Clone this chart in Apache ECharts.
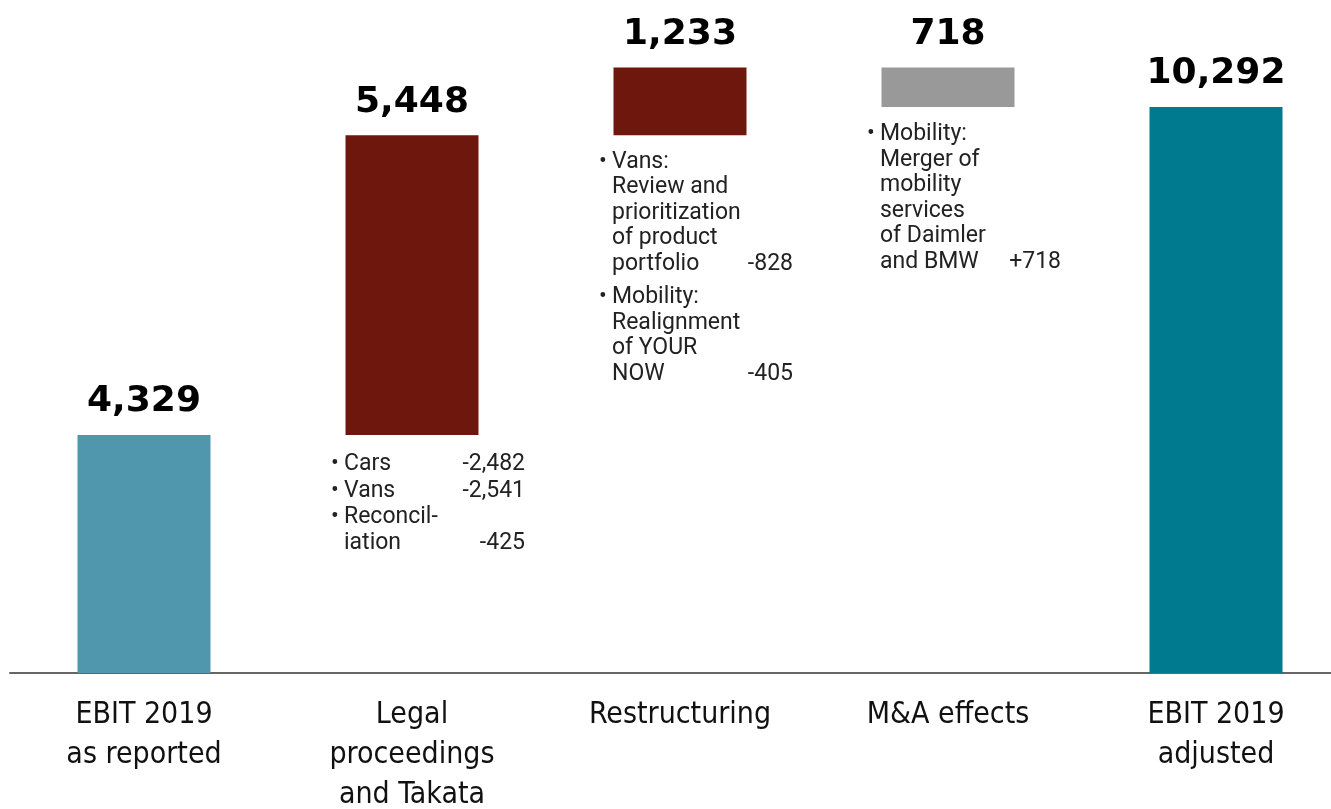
<!DOCTYPE html>
<html>
<head>
<meta charset="utf-8">
<script src="https://cdn.jsdelivr.net/npm/echarts@6/dist/echarts.min.js"></script>
<style>
  html, body { margin: 0; padding: 0; background: #fff; }
  #chart { width: 1331px; height: 809px; }
</style>
</head>
<body>
<div id="chart"></div>
<script>
const categories = ['EBIT 2019\nas reported', 'Legal\nproceedings\nand Takata', 'Restructuring', 'M&A effects', 'EBIT 2019\nadjusted'];
// signed steps of the bridge; first and last are totals
const steps = [4329, 5448, 1233, -718, 10292];
const isTotal = [true, false, false, false, true];
const barColors = ['#5097ad', '#6e170d', '#6e170d', '#999999', '#007a8f'];

// notes under the bars: [text, value] per bullet
const notes = [
  [],
  [['Cars', '-2,482'], ['Vans', '-2,541'], ['Reconcil-\niation', '-425']],
  [['Vans:\nReview and\nprioritization\nof product\nportfolio', '-828'], ['Mobility:\nRealignment\nof YOUR\nNOW', '-405']],
  [['Mobility:\nMerger of\nmobility\nservices\nof Daimler\nand BMW', '+718']],
  []
];
const noteGaps = [0, 1, 8, 0, 0];
const noteDist = [0, 17, 14, 15, 0];

let chartDom = document.getElementById('chart');
let myChart = echarts.init(chartDom);
let option;

// compute invisible bases and visible heights
let base = [];
let height = [];
let running = 0;
steps.forEach((v, i) => {
  if (isTotal[i]) {
    base.push(0);
    height.push(v);
    running = v;
  } else if (v >= 0) {
    base.push(running);
    height.push(v);
    running += v;
  } else {
    running += v;
    base.push(running);
    height.push(-v);
  }
});

function noteText(items, gap) {
  let lines = [];
  items.forEach((item, k) => {
    if (k > 0 && gap > 0) lines.push('{g| }');
    let parts = item[0].split('\n');
    parts.forEach((p, j) => {
      let bullet = j === 0 ? '{b|•}' : '{b| }';
      let val = j === parts.length - 1 ? item[1] : ' ';
      lines.push(bullet + '{t|' + p + '}{v|' + val + '}');
    });
  });
  return lines.join('\n');
}

const textStyle = { fontFamily: 'Roboto', fontSize: 23, color: '#222', lineHeight: 25.5 };

option = {
  animation: false,
  grid: { left: 10, width: 1340, top: 13, bottom: 136, outerBoundsMode: 'none' },
  xAxis: {
    type: 'category',
    data: categories,
    axisLine: { lineStyle: { color: '#666', width: 2 } },
    axisTick: { show: false },
    axisLabel: {
      margin: 22,
      fontFamily: '"Liberation Sans Narrow", "DejaVu Sans Condensed", sans-serif',
      fontSize: 30,
      lineHeight: 40,
      color: '#111'
    }
  },
  yAxis: { type: 'value', min: 0, max: 12000, show: false },
  series: [
    {
      type: 'bar',
      stack: 'w',
      silent: true,
      barWidth: 133,
      itemStyle: { color: 'transparent' },
      data: base.map((b, i) => ({
        value: b,
        label: {
          show: notes[i].length > 0,
          position: 'insideTop',
          distance: noteDist[i],
          offset: [16, 0],
          formatter: () => noteText(notes[i], noteGaps[i]),
          rich: {
            b: Object.assign({}, textStyle, { width: 13, align: 'left' }),
            t: Object.assign({}, textStyle, { width: 120, align: 'left' }),
            v: Object.assign({}, textStyle, { width: 61, align: 'right' }),
            g: { fontSize: 1, lineHeight: noteGaps[i] }
          }
        }
      }))
    },
    {
      type: 'bar',
      stack: 'w',
      barWidth: 133,
      data: height.map((h, i) => ({ value: h, itemStyle: { color: barColors[i] } })),
      label: {
        show: true,
        position: 'top',
        distance: 15,
        fontFamily: '"DejaVu Sans"',
        fontWeight: 'bold',
        fontSize: 36,
        color: '#000',
        formatter: (p) => p.value.toLocaleString('en-US')
      }
    }
  ]
};

option && myChart.setOption(option);
</script>
</body>
</html>
